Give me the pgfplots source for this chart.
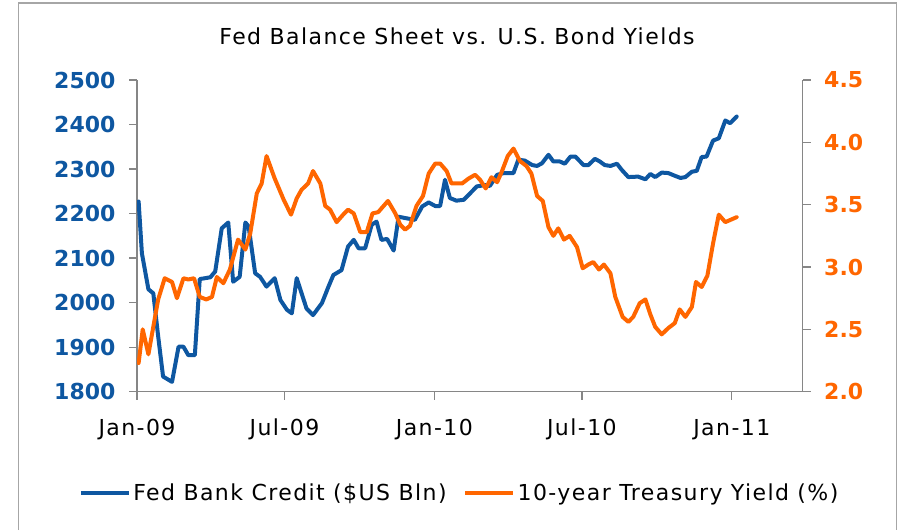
\documentclass[border=0pt]{standalone}
\usepackage{fontspec}
\setmainfont{DejaVu Sans}
\usepackage{pgfplots}
\pgfplotsset{compat=1.18}

\definecolor{fedblue}{RGB}{14,87,161}
\definecolor{yieldorange}{RGB}{255,102,0}
\definecolor{axisgray}{RGB}{134,134,134}
\definecolor{framegray}{RGB}{166,166,166}

\newcommand{\chartfont}{\fontsize{22}{26}\selectfont}
\newcommand{\widefont}{\fontsize{22}{26}\selectfont\addfontfeatures{LetterSpace=6.5}}

\pgfplotsset{
  common/.style={
    at={(137pt,138.3pt)}, anchor=south west,
    scale only axis, width=665.7pt, height=311.7pt,
    xmin=0, xmax=817,
    tick align=outside, major tick length=8pt,
    axis line style={draw=axisgray, line width=1.3pt},
    every tick/.style={draw=axisgray, line width=1.3pt},
    tick label style={font=\chartfont},
    /pgf/number format/assume math mode=true,
    /pgf/number format/1000 sep={},
  },
}

\begin{document}
\begin{tikzpicture}
\useasboundingbox (0,0) rectangle (901pt,530pt);
\draw[framegray, line width=1.3pt]
  (18.3pt,0pt) -- (18.3pt,527pt) -- (896.7pt,527pt) -- (896.7pt,0pt);
\node[font=\widefont, anchor=center] at (457pt,494pt)
  {Fed Balance Sheet vs. U.S. Bond Yields};

% Fed bank credit, left axis
\begin{axis}[common,
  ymin=1800, ymax=2500, ytick distance=100,
  axis x line*=bottom, axis y line*=left,
  xtick={0,181,365,546,730},
  xticklabels={Jan-09,Jul-09,Jan-10,Jul-10,Jan-11},
  xticklabel style={yshift=-16pt, font=\widefont},
  yticklabel style={text=fedblue, font=\chartfont\bfseries, xshift=-10pt},
]
\addplot[fedblue, line width=4pt, line join=round, line cap=round] coordinates {
  (2,2227)(6,2111)(14,2030)(20,2021)(26,1924)(32,1834)(43,1822)(51,1901)
  (57,1901)(63,1882)(71,1882)(77,2053)(84,2055)(90,2057)(96,2070)(104,2167)
  (112,2180)(118,2047)(126,2058)(133,2180)(137,2171)(145,2066)(151,2058)
  (159,2036)(169,2055)(176,2006)(184,1984)(190,1976)(196,2055)(208,1987)
  (216,1972)(227,1999)(235,2036)(241,2062)(251,2073)(259,2126)(266,2141)
  (272,2122)(280,2122)(288,2175)(294,2182)(300,2141)(307,2143)(315,2117)
  (321,2193)(329,2190)(341,2186)(350,2216)(358,2225)(366,2217)(372,2217)
  (378,2276)(384,2235)(392,2229)(401,2231)(407,2242)(417,2261)(427,2264)
  (433,2262)(442,2287)(450,2291)(456,2291)(462,2291)(468,2321)(476,2319)
  (485,2309)(491,2307)(497,2313)(505,2332)(511,2317)(519,2317)(525,2312)
  (532,2328)(538,2328)(548,2309)(554,2309)(562,2323)(568,2317)(574,2309)
  (581,2307)(589,2312)(595,2298)(603,2282)(615,2283)(624,2277)(630,2289)
  (636,2282)(644,2292)(652,2291)(660,2285)(667,2280)(673,2282)(681,2294)
  (687,2296)(693,2327)(699,2328)(707,2364)(714,2369)(722,2409)(728,2403)
  (736,2418)
};
\end{axis}

% 10-year yield, right axis
\begin{axis}[common,
  ymin=2, ymax=4.5, ytick distance=0.5,
  axis x line=none, axis y line*=right,
  yticklabel style={text=yieldorange, font=\chartfont\bfseries, xshift=10pt,
    /pgf/number format/.cd, fixed, fixed zerofill, precision=1},
  legend columns=2,
  legend style={at={(0.485,-0.325)}, anchor=center, draw=none, fill=none,
    font=\widefont, nodes={inner xsep=2.5pt},
    /tikz/every even column/.append style={column sep=14pt}},
  legend image code/.code={\draw[#1, line cap=butt] (0pt,0pt) -- (48pt,0pt);},
]
\addlegendimage{fedblue, line width=4pt}
\addlegendentry{Fed Bank Credit (\$US Bln)}
\addplot[yieldorange, line width=4pt, line join=round, line cap=round] coordinates {
  (2,2.23)(7,2.50)(14,2.30)(20,2.52)(26,2.74)(34,2.91)(43,2.88)(49,2.75)
  (57,2.91)(63,2.90)(70,2.91)(77,2.76)(85,2.74)(92,2.76)(98,2.92)(106,2.87)
  (114,2.98)(124,3.22)(133,3.14)(139,3.27)(147,3.59)(153,3.67)(159,3.89)
  (169,3.71)(180,3.54)(189,3.42)(196,3.55)(202,3.62)(210,3.67)(216,3.77)
  (225,3.67)(231,3.49)(237,3.46)(245,3.36)(253,3.42)(259,3.46)(266,3.43)
  (274,3.28)(282,3.28)(289,3.43)(296,3.44)(308,3.53)(317,3.43)(323,3.34)
  (329,3.30)(335,3.33)(343,3.49)(351,3.57)(358,3.75)(366,3.83)(372,3.83)
  (380,3.77)(386,3.67)(399,3.67)(407,3.71)(415,3.74)(421,3.70)(428,3.63)
  (435,3.72)(442,3.68)(448,3.77)(455,3.89)(462,3.95)(470,3.85)(478,3.81)
  (484,3.75)(491,3.57)(498,3.53)(505,3.32)(511,3.25)(517,3.31)(524,3.22)
  (531,3.25)(540,3.16)(547,2.99)(554,3.02)(560,3.04)(567,2.98)(573,3.02)
  (581,2.95)(587,2.76)(596,2.60)(603,2.56)(609,2.60)(617,2.71)(624,2.74)
  (630,2.62)(636,2.52)(644,2.46)(652,2.51)(660,2.55)(666,2.66)(673,2.60)
  (681,2.68)(686,2.88)(693,2.84)(700,2.93)(707,3.19)(714,3.42)(722,3.36)
  (736,3.40)
};
\addlegendentry{10-year Treasury Yield (\%)}
\end{axis}
\end{tikzpicture}
\end{document}
